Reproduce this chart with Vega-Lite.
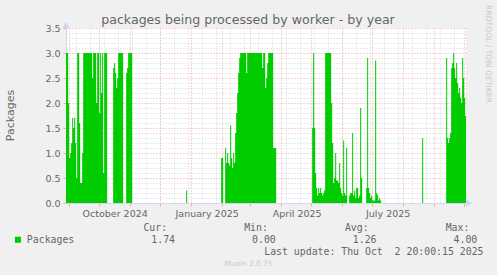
{
  "$schema": "https://vega.github.io/schema/vega-lite/v6.json",
  "width": 400,
  "height": 175,
  "autosize": {"type": "none"},
  "padding": {"left": 66, "top": 28, "right": 31, "bottom": 72},
  "background": "#F0F0F0",
  "view": {"fill": "#FFFFFF", "stroke": null},
  "title": {
    "text": "packages being processed by worker - by year",
    "font": "DejaVu Sans",
    "fontSize": 12.6,
    "fontWeight": "normal",
    "color": "#666666",
    "anchor": "middle",
    "baseline": "alphabetic",
    "dx": -18,
    "offset": -32
  },
  "data": {
    "values": [
      {"t": "2024-08-28T20:00", "v": 3.0},
      {"t": "2024-08-31T00:00", "v": 2.0},
      {"t": "2024-09-01T00:00", "v": 0.9},
      {"t": "2024-09-02T00:00", "v": 1.0},
      {"t": "2024-09-03T00:00", "v": 1.2},
      {"t": "2024-09-04T00:00", "v": 1.7},
      {"t": "2024-09-05T00:00", "v": 1.5},
      {"t": "2024-09-06T00:00", "v": 1.7},
      {"t": "2024-09-07T00:00", "v": 1.2},
      {"t": "2024-09-08T00:00", "v": 0.5},
      {"t": "2024-09-09T00:00", "v": 3.0},
      {"t": "2024-09-11T00:00", "v": 1.6},
      {"t": "2024-09-12T00:00", "v": 0.4},
      {"t": "2024-09-14T00:00", "v": 1.0},
      {"t": "2024-09-15T00:00", "v": 3.0},
      {"t": "2024-09-24T00:00", "v": 2.5},
      {"t": "2024-09-25T00:00", "v": 3.0},
      {"t": "2024-09-28T00:00", "v": 2.0},
      {"t": "2024-09-29T00:00", "v": 3.0},
      {"t": "2024-10-01T00:00", "v": 1.8},
      {"t": "2024-10-02T00:00", "v": 3.0},
      {"t": "2024-10-03T00:00", "v": 2.2},
      {"t": "2024-10-04T00:00", "v": 3.0},
      {"t": "2024-10-05T00:00", "v": 0.6},
      {"t": "2024-10-06T00:00", "v": 3.0},
      {"t": "2024-10-09T00:00", "v": 0},
      {"t": "2024-10-15T00:00", "v": 2.7},
      {"t": "2024-10-16T00:00", "v": 2.8},
      {"t": "2024-10-17T00:00", "v": 2.6},
      {"t": "2024-10-18T00:00", "v": 2.3},
      {"t": "2024-10-19T00:00", "v": 2.5},
      {"t": "2024-10-20T00:00", "v": 3.0},
      {"t": "2024-10-25T00:00", "v": 0},
      {"t": "2024-10-28T00:00", "v": 2.6},
      {"t": "2024-10-29T00:00", "v": 2.7},
      {"t": "2024-10-30T00:00", "v": 3.0},
      {"t": "2024-11-03T00:00", "v": 0},
      {"t": "2024-12-27T00:00", "v": 0.25},
      {"t": "2024-12-28T00:00", "v": 0},
      {"t": "2025-01-31T00:00", "v": 0.9},
      {"t": "2025-02-02T00:00", "v": 0},
      {"t": "2025-02-04T00:00", "v": 1.1},
      {"t": "2025-02-05T00:00", "v": 0.8},
      {"t": "2025-02-06T00:00", "v": 1.0},
      {"t": "2025-02-07T00:00", "v": 0.8},
      {"t": "2025-02-08T00:00", "v": 0.75},
      {"t": "2025-02-09T00:00", "v": 1.55},
      {"t": "2025-02-10T00:00", "v": 0.9},
      {"t": "2025-02-11T00:00", "v": 0.7},
      {"t": "2025-02-12T00:00", "v": 1.0},
      {"t": "2025-02-13T00:00", "v": 0.8},
      {"t": "2025-02-14T00:00", "v": 1.4},
      {"t": "2025-02-15T00:00", "v": 1.8},
      {"t": "2025-02-16T00:00", "v": 2.2},
      {"t": "2025-02-17T00:00", "v": 2.6},
      {"t": "2025-02-18T00:00", "v": 2.9},
      {"t": "2025-02-19T00:00", "v": 3.0},
      {"t": "2025-02-25T00:00", "v": 2.6},
      {"t": "2025-02-26T00:00", "v": 3.0},
      {"t": "2025-03-13T00:00", "v": 2.7},
      {"t": "2025-03-14T00:00", "v": 3.0},
      {"t": "2025-03-16T00:00", "v": 2.3},
      {"t": "2025-03-17T00:00", "v": 2.5},
      {"t": "2025-03-18T00:00", "v": 2.8},
      {"t": "2025-03-19T00:00", "v": 3.0},
      {"t": "2025-03-24T00:00", "v": 1.1},
      {"t": "2025-03-27T00:00", "v": 0},
      {"t": "2025-05-02T00:00", "v": 1.5},
      {"t": "2025-05-03T00:00", "v": 3.0},
      {"t": "2025-05-04T00:00", "v": 1.5},
      {"t": "2025-05-05T00:00", "v": 0.6},
      {"t": "2025-05-06T00:00", "v": 0.3},
      {"t": "2025-05-07T00:00", "v": 0.15},
      {"t": "2025-05-08T00:00", "v": 0.3},
      {"t": "2025-05-09T00:00", "v": 0.2},
      {"t": "2025-05-10T00:00", "v": 0.3},
      {"t": "2025-05-11T00:00", "v": 0.2},
      {"t": "2025-05-12T00:00", "v": 0.15},
      {"t": "2025-05-13T00:00", "v": 0.2},
      {"t": "2025-05-14T00:00", "v": 0.25},
      {"t": "2025-05-15T00:00", "v": 3.0},
      {"t": "2025-05-21T00:00", "v": 2.0},
      {"t": "2025-05-22T00:00", "v": 1.2},
      {"t": "2025-05-23T00:00", "v": 0.4},
      {"t": "2025-05-24T00:00", "v": 0.5},
      {"t": "2025-05-25T00:00", "v": 1.0},
      {"t": "2025-05-26T00:00", "v": 0.45},
      {"t": "2025-05-28T00:00", "v": 0.4},
      {"t": "2025-05-29T00:00", "v": 0.8},
      {"t": "2025-05-30T00:00", "v": 0.3},
      {"t": "2025-05-31T00:00", "v": 0.2},
      {"t": "2025-06-01T00:00", "v": 0.15},
      {"t": "2025-06-02T00:00", "v": 1.25},
      {"t": "2025-06-03T00:00", "v": 0.2},
      {"t": "2025-06-04T00:00", "v": 0.15},
      {"t": "2025-06-05T00:00", "v": 1.1},
      {"t": "2025-06-06T00:00", "v": 0},
      {"t": "2025-06-08T00:00", "v": 0.15},
      {"t": "2025-06-09T00:00", "v": 0.2},
      {"t": "2025-06-11T00:00", "v": 1.4},
      {"t": "2025-06-12T00:00", "v": 0.15},
      {"t": "2025-06-13T00:00", "v": 0.25},
      {"t": "2025-06-14T00:00", "v": 0.1},
      {"t": "2025-06-15T00:00", "v": 0.3},
      {"t": "2025-06-17T00:00", "v": 0.1},
      {"t": "2025-06-18T00:00", "v": 0.15},
      {"t": "2025-06-19T00:00", "v": 1.9},
      {"t": "2025-06-20T00:00", "v": 0.5},
      {"t": "2025-06-21T00:00", "v": 0},
      {"t": "2025-06-25T00:00", "v": 0.3},
      {"t": "2025-06-26T00:00", "v": 2.9},
      {"t": "2025-06-27T00:00", "v": 0.3},
      {"t": "2025-06-28T00:00", "v": 0.2},
      {"t": "2025-06-29T00:00", "v": 0.1},
      {"t": "2025-06-30T00:00", "v": 0.15},
      {"t": "2025-07-01T00:00", "v": 0.05},
      {"t": "2025-07-04T00:00", "v": 2.85},
      {"t": "2025-07-05T00:00", "v": 0.2},
      {"t": "2025-07-06T00:00", "v": 0.15},
      {"t": "2025-07-07T00:00", "v": 0.05},
      {"t": "2025-07-08T00:00", "v": 0.1},
      {"t": "2025-07-09T00:00", "v": 0.05},
      {"t": "2025-07-10T00:00", "v": 0},
      {"t": "2025-08-20T00:00", "v": 1.3},
      {"t": "2025-08-21T00:00", "v": 0},
      {"t": "2025-09-13T00:00", "v": 2.9},
      {"t": "2025-09-14T00:00", "v": 1.3},
      {"t": "2025-09-15T00:00", "v": 1.2},
      {"t": "2025-09-16T00:00", "v": 1.3},
      {"t": "2025-09-17T00:00", "v": 1.4},
      {"t": "2025-09-18T00:00", "v": 2.7},
      {"t": "2025-09-19T00:00", "v": 2.8},
      {"t": "2025-09-20T00:00", "v": 3.0},
      {"t": "2025-09-21T00:00", "v": 2.7},
      {"t": "2025-09-22T00:00", "v": 2.5},
      {"t": "2025-09-23T00:00", "v": 2.8},
      {"t": "2025-09-24T00:00", "v": 2.4},
      {"t": "2025-09-25T00:00", "v": 2.2},
      {"t": "2025-09-26T00:00", "v": 2.3},
      {"t": "2025-09-27T00:00", "v": 2.1},
      {"t": "2025-09-28T00:00", "v": 2.0},
      {"t": "2025-09-29T00:00", "v": 2.9},
      {"t": "2025-09-30T00:00", "v": 2.5},
      {"t": "2025-10-01T00:00", "v": 2.1},
      {"t": "2025-10-02T00:00", "v": 1.74},
      {"t": "2025-10-02T20:00", "v": 1.74}
    ]
  },
  "layer": [
    {
      "mark": {"type": "area", "interpolate": "step-after", "clip": true},
      "encoding": {
        "x": {
          "field": "t",
          "type": "temporal",
          "scale": {"domain": [{"year": 2024, "month": 8, "date": 28, "hours": 20}, {"year": 2025, "month": 10, "date": 2, "hours": 20}]},
          "axis": {
            "orient": "bottom",
            "values": [
              {"year": 2024, "month": 9, "date": 8}, {"year": 2024, "month": 9, "date": 22},
              {"year": 2024, "month": 10, "date": 6}, {"year": 2024, "month": 10, "date": 20},
              {"year": 2024, "month": 11, "date": 3}, {"year": 2024, "month": 11, "date": 17},
              {"year": 2024, "month": 12, "date": 1}, {"year": 2024, "month": 12, "date": 15},
              {"year": 2024, "month": 12, "date": 29}, {"year": 2025, "month": 1, "date": 12},
              {"year": 2025, "month": 1, "date": 26}, {"year": 2025, "month": 2, "date": 9},
              {"year": 2025, "month": 2, "date": 23}, {"year": 2025, "month": 3, "date": 9},
              {"year": 2025, "month": 3, "date": 23}, {"year": 2025, "month": 4, "date": 6},
              {"year": 2025, "month": 4, "date": 20}, {"year": 2025, "month": 5, "date": 4},
              {"year": 2025, "month": 5, "date": 18}, {"year": 2025, "month": 6, "date": 1},
              {"year": 2025, "month": 6, "date": 15}, {"year": 2025, "month": 6, "date": 29},
              {"year": 2025, "month": 7, "date": 13}, {"year": 2025, "month": 7, "date": 27},
              {"year": 2025, "month": 8, "date": 10}, {"year": 2025, "month": 8, "date": 24},
              {"year": 2025, "month": 9, "date": 7}, {"year": 2025, "month": 9, "date": 21}
            ],
            "grid": true,
            "gridColor": "#D4D4D4",
            "gridDash": [1, 2],
            "gridWidth": 1,
            "labels": false,
            "ticks": false,
            "domain": false,
            "title": "Munin 2.0.75",
            "titleFont": "DejaVu Sans",
            "titleFontSize": 7.3,
            "titleFontWeight": "normal",
            "titleColor": "#C8C8C8",
            "titleX": 182,
            "titleY": 60.3,
            "titleAlign": "center",
            "titleAnchor": null,
            "titleBaseline": "middle"
          }
        },
        "y": {
          "field": "v",
          "type": "quantitative",
          "scale": {"domain": [0, 3.5], "nice": false},
          "axis": {
            "orient": "right",
            "values": [0.1, 0.2, 0.3, 0.4, 0.6, 0.7, 0.8, 0.9, 1.1, 1.2, 1.3, 1.4, 1.6, 1.7, 1.8, 1.9, 2.1, 2.2, 2.3, 2.4, 2.6, 2.7, 2.8, 2.9, 3.1, 3.2, 3.3, 3.4],
            "grid": true,
            "gridColor": "#D4D4D4",
            "gridDash": [1, 2],
            "labels": false,
            "ticks": false,
            "domain": false,
            "title": "RRDTOOL / TOBI OETIKER",
            "titleFont": "DejaVu Sans",
            "titleFontSize": 7.6,
            "titleFontWeight": "normal",
            "titleColor": "#C8C8C8",
            "titleAngle": 90,
            "titleX": 21,
            "titleY": 25.5,
            "titleAlign": "center",
            "titleAnchor": null,
            "titleBaseline": "middle"
          }
        },
        "color": {
          "datum": "Packages",
          "scale": {"range": ["#00CC00"]},
          "legend": {
            "orient": "none",
            "legendX": -53,
            "legendY": 195,
            "padding": 0,
            "title": "\u200b\u00a0\u00a0\u00a0\u00a0\u00a0\u00a0\u00a0\u00a0\u00a0\u00a0\u00a0\u00a0\u00a0\u00a0\u00a0\u00a0\u00a0\u00a0\u00a0\u00a0\u00a0\u00a0Cur:\u00a0\u00a0\u00a0\u00a0\u00a0\u00a0\u00a0\u00a0\u00a0\u00a0\u00a0\u00a0\u00a0Min:\u00a0\u00a0\u00a0\u00a0\u00a0\u00a0\u00a0\u00a0\u00a0\u00a0\u00a0\u00a0\u00a0Avg:\u00a0\u00a0\u00a0\u00a0\u00a0\u00a0\u00a0\u00a0\u00a0\u00a0\u00a0\u00a0\u00a0Max:",
            "titleFont": "DejaVu Sans Mono",
            "titleFontSize": 9.85,
            "titleFontWeight": "normal",
            "titleColor": "#666666",
            "titleLimit": 1000,
            "titlePadding": 2,
            "labelFont": "DejaVu Sans Mono",
            "labelFontSize": 9.85,
            "labelColor": "#666666",
            "labelLimit": 1000,
            "labelOffset": 4,
            "labelExpr": "datum.label + '\u00a0\u00a0\u00a0\u00a0\u00a0\u00a0\u00a0\u00a0\u00a0\u00a0\u00a0\u00a0\u00a01.74\u00a0\u00a0\u00a0\u00a0\u00a0\u00a0\u00a0\u00a0\u00a0\u00a0\u00a0\u00a0\u00a00.00\u00a0\u00a0\u00a0\u00a0\u00a0\u00a0\u00a0\u00a0\u00a0\u00a0\u00a0\u00a0\u00a01.26\u00a0\u00a0\u00a0\u00a0\u00a0\u00a0\u00a0\u00a0\u00a0\u00a0\u00a0\u00a0\u00a04.00'",
            "symbolType": "square",
            "symbolSize": 36,
            "symbolStrokeWidth": 0,
            "symbolOpacity": 1
          }
        }
      }
    },
    {
      "mark": {"type": "point", "shape": "triangle-right", "filled": true, "size": 30, "color": "#CFD6F8", "opacity": 1, "xOffset": 3},
      "encoding": {
        "x": {
          "datum": {"year": 2025, "month": 10, "date": 2, "hours": 20},
          "type": "temporal",
          "axis": {
            "orient": "bottom",
            "values": [
              {"year": 2024, "month": 9, "date": 1}, {"year": 2024, "month": 10, "date": 1},
              {"year": 2024, "month": 11, "date": 1}, {"year": 2024, "month": 12, "date": 1},
              {"year": 2025, "month": 1, "date": 1}, {"year": 2025, "month": 2, "date": 1},
              {"year": 2025, "month": 3, "date": 1}, {"year": 2025, "month": 4, "date": 1},
              {"year": 2025, "month": 5, "date": 1}, {"year": 2025, "month": 6, "date": 1},
              {"year": 2025, "month": 7, "date": 1}, {"year": 2025, "month": 8, "date": 1},
              {"year": 2025, "month": 9, "date": 1}, {"year": 2025, "month": 10, "date": 1}
            ],
            "labelExpr": "(month(datum.value) % 3 == 0 && datum.value < datetime(2025, 7, 15)) ? timeFormat(datum.value, '%B %Y') : ''",
            "labelOffset": 15.5,
            "labelFont": "DejaVu Sans",
            "labelFontSize": 9.5,
            "labelColor": "#666666",
            "labelOverlap": false,
            "labelFlush": false,
            "labelBound": false,
            "labelPadding": 2,
            "grid": true,
            "gridColor": "#F4A8A8",
            "gridDash": [1, 2],
            "ticks": true,
            "tickColor": "#F4A8A8",
            "tickSize": 3,
            "domain": true,
            "domainColor": "#CFD6F8",
            "title": "Last update: Thu Oct\u00a0\u00a02 20:00:15 2025",
            "titleFont": "DejaVu Sans Mono",
            "titleFontSize": 9.85,
            "titleFontWeight": "normal",
            "titleColor": "#666666",
            "titleX": 417,
            "titleY": 48.7,
            "titleAlign": "right",
            "titleAnchor": null,
            "titleBaseline": "middle",
            "titleLimit": 1000
          }
        },
        "y": {
          "datum": 0,
          "type": "quantitative",
          "axis": {
            "orient": "left",
            "values": [0, 0.5, 1, 1.5, 2, 2.5, 3, 3.5],
            "format": ".1f",
            "labelFont": "DejaVu Sans",
            "labelFontSize": 9.5,
            "labelColor": "#666666",
            "labelPadding": 3,
            "grid": true,
            "gridColor": "#F4A8A8",
            "gridDash": [1, 2],
            "ticks": true,
            "tickColor": "#F4A8A8",
            "tickSize": 3,
            "domain": true,
            "domainColor": "#CFD6F8",
            "title": "Packages",
            "titleFont": "DejaVu Sans",
            "titleFontSize": 11,
            "titleFontWeight": "normal",
            "titleColor": "#666666",
            "titleAngle": -90,
            "titleX": -56,
            "titleY": 87,
            "titleAlign": "center",
            "titleAnchor": null,
            "titleBaseline": "middle"
          }
        }
      }
    },
    {
      "mark": {"type": "point", "shape": "triangle-up", "filled": true, "size": 30, "color": "#CFD6F8", "opacity": 1, "yOffset": -3},
      "encoding": {
        "x": {"datum": {"year": 2024, "month": 8, "date": 28, "hours": 20}, "type": "temporal", "axis": null},
        "y": {"datum": 3.5, "type": "quantitative", "axis": null}
      }
    }
  ],
  "resolve": {"axis": {"x": "independent", "y": "independent"}}
}
